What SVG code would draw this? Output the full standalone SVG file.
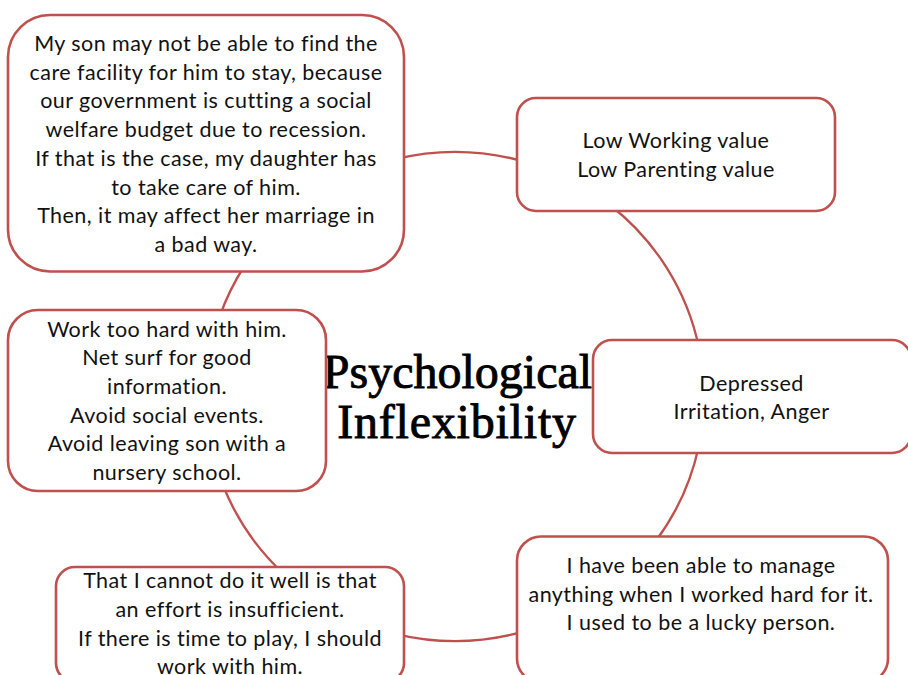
<svg xmlns="http://www.w3.org/2000/svg" width="908" height="675" viewBox="0 0 908 675">
  <style>
    .box { fill: #ffffff; stroke: #C0504D; stroke-width: 2.6; }
    .link { fill: none; stroke: #C0504D; stroke-width: 2.3; }
    .label { font-family: Lato, "Liberation Sans", sans-serif; font-size: 21.5px; letter-spacing: 0.45px; fill: #111111; text-anchor: middle; }
    .title { font-family: "Liberation Serif", "DejaVu Serif", serif; font-size: 48px; fill: #000000; stroke: #000000; stroke-width: 0.9; text-anchor: middle; }
  </style>
  <rect width="908" height="675" fill="#ffffff"/>

  <!-- ring of connectors, drawn as arcs of one ellipse between neighbouring boxes -->
  <g id="connectors">
    <path class="link" d="M 395 159.2 A 249 244.5 0 0 1 525 161.8"/>
    <path class="link" d="M 609.9 205 A 249 244.5 0 0 1 698.8 347"/>
    <path class="link" d="M 698.8 446 A 249 244.5 0 0 1 655 542"/>
    <path class="link" d="M 525 631.1 A 249 244.5 0 0 1 395 633.8"/>
    <path class="link" d="M 284.9 575 A 249 244.5 0 0 1 222.5 484"/>
    <path class="link" d="M 219.5 317 A 249 244.5 0 0 1 245 265"/>
  </g>

  <g id="title">
    <text class="title" x="457.5" y="388">Psychological</text>
    <text class="title" x="457" y="438" letter-spacing="0.8">Inflexibility</text>
  </g>

  <g id="node-worry">
    <rect class="box" x="8" y="15" width="396" height="256.5" rx="42" ry="42"/>
    <text class="label" x="206" y="51">My son may not be able to find the</text>
    <text class="label" x="206" y="79.7">care facility for him to stay, because</text>
    <text class="label" x="206" y="108.4">our government is cutting a social</text>
    <text class="label" x="206" y="137.1">welfare budget due to recession.</text>
    <text class="label" x="206" y="165.8">If that is the case, my daughter has</text>
    <text class="label" x="206" y="194.5">to take care of him.</text>
    <text class="label" x="206" y="223.2">Then, it may affect her marriage in</text>
    <text class="label" x="206" y="251.9">a bad way.</text>
  </g>

  <g id="node-values">
    <rect class="box" x="517" y="98" width="318" height="113" rx="19" ry="19"/>
    <text class="label" x="676" y="148.3">Low Working value</text>
    <text class="label" x="676" y="176.8">Low Parenting value</text>
  </g>

  <g id="node-mood">
    <rect class="box" x="593" y="340" width="318" height="113" rx="19" ry="19"/>
    <text class="label" x="751.5" y="390.7">Depressed</text>
    <text class="label" x="751.5" y="419.3">Irritation, Anger</text>
  </g>

  <g id="node-beliefs">
    <rect class="box" x="517" y="536.5" width="371" height="146" rx="24" ry="24"/>
    <text class="label" x="701" y="573.3">I have been able to manage</text>
    <text class="label" x="701" y="601.8">anything when I worked hard for it.</text>
    <text class="label" x="701" y="630.3">I used to be a lucky person.</text>
  </g>

  <g id="node-effort">
    <rect class="box" x="56" y="567" width="348" height="115" rx="19" ry="19"/>
    <text class="label" x="230" y="588.3">That I cannot do it well is that</text>
    <text class="label" x="230" y="616.9">an effort is insufficient.</text>
    <text class="label" x="230" y="645.6">If there is time to play, I should</text>
    <text class="label" x="230" y="673.5">work with him.</text>
  </g>

  <g id="node-actions">
    <rect class="box" x="8" y="310" width="318" height="181" rx="30" ry="30"/>
    <text class="label" x="167" y="336.7">Work too hard with him.</text>
    <text class="label" x="167" y="365.3">Net surf for good</text>
    <text class="label" x="167" y="394">information.</text>
    <text class="label" x="167" y="422.7">Avoid social events.</text>
    <text class="label" x="167" y="451.4">Avoid leaving son with a</text>
    <text class="label" x="167" y="480">nursery school.</text>
  </g>
</svg>
